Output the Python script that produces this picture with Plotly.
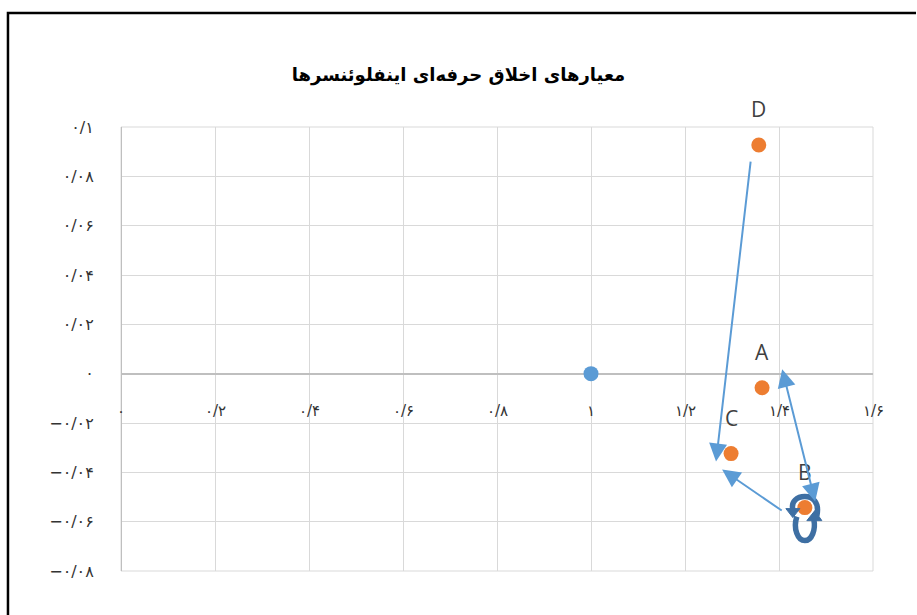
import plotly.graph_objects as go

# ---- data ----
title_text = "معیارهای اخلاق حرفه‌ای اینفلوئنسرها"

base_x = [1.0]
base_y = [0.0]

point_labels = ["D", "A", "C", "B"]
point_x = [1.357, 1.364, 1.298, 1.455]
point_y = [0.0927, -0.0057, -0.0324, -0.0543]

x_tick_vals = [0, 0.2, 0.4, 0.6, 0.8, 1.0, 1.2, 1.4, 1.6]
x_tick_text = ["۰", "۰/۲", "۰/۴", "۰/۶", "۰/۸", "۱", "۱/۲", "۱/۴", "۱/۶"]
y_tick_vals = [0.1, 0.08, 0.06, 0.04, 0.02, 0, -0.02, -0.04, -0.06, -0.08]
y_tick_text = ["۰/۱", "۰/۰۸", "۰/۰۶", "۰/۰۴", "۰/۰۲", "۰",
               "−۰/۰۲", "−۰/۰۴", "−۰/۰۶", "−۰/۰۸"]

# arrows: (tail x, tail y, head x, head y, two-headed)
arrow_x0 = [1.340, 1.409, 1.406]
arrow_y0 = [0.0866, -0.0559, 0.0024]
arrow_x1 = [1.266, 1.279, 1.477]
arrow_y1 = [-0.0356, -0.0389, -0.0518]
arrow_double = [False, False, True]

# ---- figure ----
fig = go.Figure()
fig.add_trace(go.Scatter(x=base_x, y=base_y, mode="markers",
                         marker=dict(color="#5B9BD5", size=15), showlegend=False))
fig.add_trace(go.Scatter(x=point_x, y=point_y, mode="markers",
                         marker=dict(color="#ED7D31", size=15), showlegend=False))

annotations = []
for lab, px, py in zip(point_labels, point_x, point_y):
    annotations.append(dict(x=px, y=py, xref="x", yref="y", text=lab, showarrow=False,
                            yshift=36, font=dict(family="Open Sans", size=21, color="#404040")))

for x0, y0, x1, y1, dbl in zip(arrow_x0, arrow_y0, arrow_x1, arrow_y1, arrow_double):
    a = dict(x=x1, y=y1, ax=x0, ay=y0, xref="x", yref="y", axref="x", ayref="y",
             text="", showarrow=True, arrowhead=2, arrowsize=1.8, arrowwidth=2,
             arrowcolor="#5B9BD5")
    if dbl:
        a.update(arrowside="end+start", startarrowhead=2, startarrowsize=1.8)
    annotations.append(a)

# x tick labels (drawn beside the horizontal zero axis)
for v, t in zip(x_tick_vals, x_tick_text):
    annotations.append(dict(x=v, y=0, xref="x", yref="y", text=t, showarrow=False,
                            yshift=-37, font=dict(family="DejaVu Sans", size=15, color="#333333")))

# circular arrow around B (pixel offsets around point B)
bx, by = point_x[3], point_y[3]
circ_col = "#3E6FA3"
shapes = []
arc_paths = [
    "M 12,-8 C 15,6 7,11 0,11 C -8,11 -14,6 -12,-2",
    "M -8,-9 C -12,-21 -7,-33 0,-33 C 7,-33 11,-22 9,-12",
]
head_paths = [
    "M -19,-1 L -5,-1 L -12,-10 Z",
    "M 2,-13 L 17,-13 L 10,-3 Z",
]
for p in arc_paths:
    shapes.append(dict(type="path", xref="x", yref="y", xsizemode="pixel", ysizemode="pixel",
                       xanchor=bx, yanchor=by, path=p, line=dict(color=circ_col, width=5.5)))
for p in head_paths:
    shapes.append(dict(type="path", xref="x", yref="y", xsizemode="pixel", ysizemode="pixel",
                       xanchor=bx, yanchor=by, path=p, fillcolor=circ_col,
                       line=dict(color=circ_col, width=1)))

# plot-area frame
shapes.append(dict(type="rect", xref="paper", yref="paper", x0=0, y0=0, x1=1, y1=1,
                   line=dict(color="#D9D9D9", width=1), layer="below"))
# outer black chart border (top and left)
shapes.append(dict(type="path", xref="paper", yref="paper",
                   path="M -0.1503,-0.2 L -0.1503,1.2568 L 1.0572,1.2568",
                   line=dict(color="black", width=2.5)))

fig.update_layout(
    width=917, height=615, autosize=False,
    margin=dict(l=121, r=44, t=127, b=44),
    paper_bgcolor="white", plot_bgcolor="white",
    title=dict(text="<b>" + title_text + "</b>", x=0.5, xanchor="center",
               y=1 - 75 / 615, yanchor="middle",
               font=dict(family="DejaVu Sans", size=18, color="black")),
    xaxis=dict(range=[0, 1.6], tickvals=x_tick_vals, showticklabels=False,
               showgrid=True, gridcolor="#D9D9D9", gridwidth=1,
               zeroline=True, zerolinecolor="#BFBFBF", zerolinewidth=1, showline=False),
    yaxis=dict(range=[-0.08, 0.1], tickvals=y_tick_vals, ticktext=y_tick_text,
               showgrid=True, gridcolor="#D9D9D9", gridwidth=1,
               zeroline=True, zerolinecolor="#BFBFBF", zerolinewidth=1.5, showline=False,
               ticks="outside", ticklen=23, tickcolor="rgba(0,0,0,0)",
               tickfont=dict(family="DejaVu Sans", size=16, color="#333333")),
    annotations=annotations,
    shapes=shapes,
)

fig.write_html("out.html")
